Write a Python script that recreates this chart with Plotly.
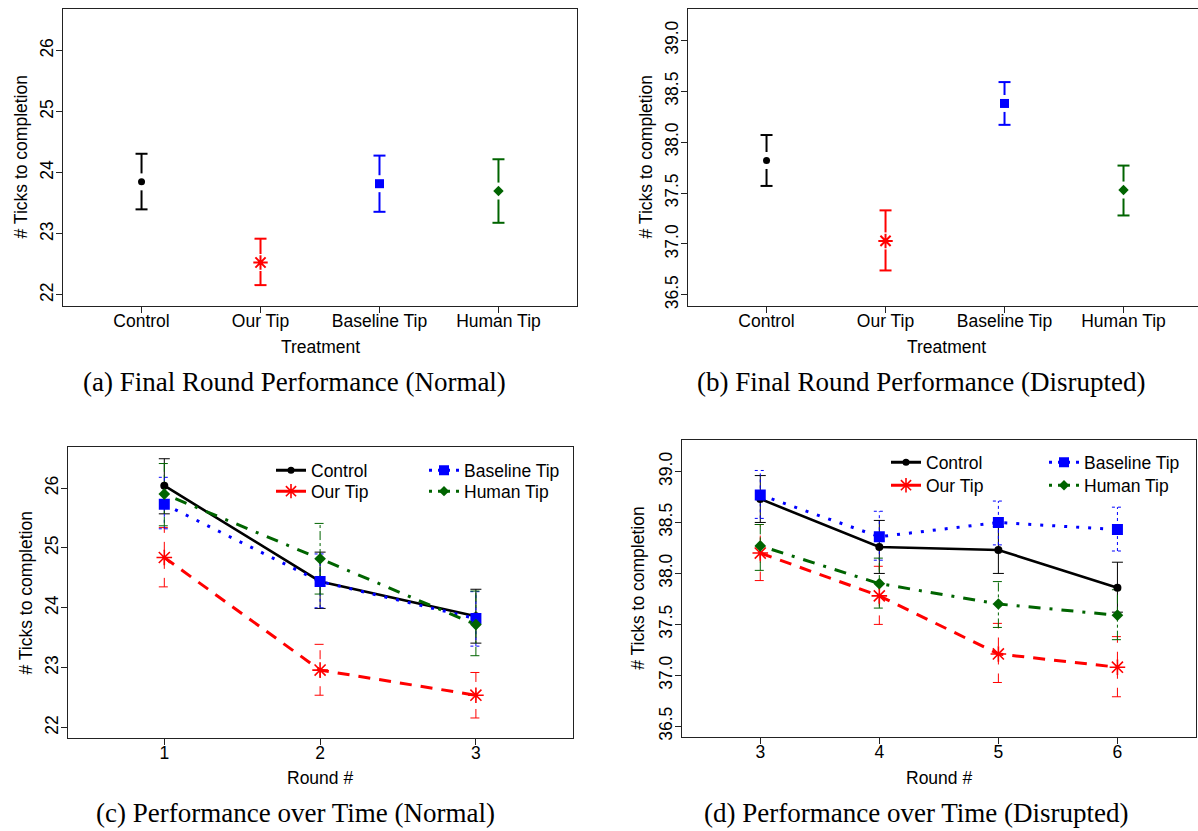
import plotly.graph_objects as go

# ---------------- data ----------------
categories = ["Control", "Our Tip", "Baseline Tip", "Human Tip"]

# (a) Final round performance (normal)
final_normal_mean = [23.85, 22.53, 23.82, 23.70]
final_normal_lo = [23.40, 22.16, 23.36, 23.18]
final_normal_hi = [24.31, 22.92, 24.28, 24.22]

# (b) Final round performance (disrupted)
final_disrupted_mean = [37.82, 37.03, 38.38, 37.53]
final_disrupted_lo = [37.57, 36.74, 38.17, 37.28]
final_disrupted_hi = [38.07, 37.33, 38.59, 37.77]

# (c) Performance over time (normal)
rounds_normal = [1, 2, 3]
normal_control_mean = [26.04, 24.44, 23.86]
normal_control_lo = [25.57, 23.99, 23.41]
normal_control_hi = [26.49, 24.93, 24.31]
normal_ourtip_mean = [24.84, 22.96, 22.54]
normal_ourtip_lo = [24.35, 22.54, 22.16]
normal_ourtip_hi = [25.34, 23.39, 22.92]
normal_baseline_mean = [25.73, 24.44, 23.82]
normal_baseline_lo = [25.32, 24.00, 23.36]
normal_baseline_hi = [26.18, 24.90, 24.27]
normal_human_mean = [25.90, 24.82, 23.72]
normal_human_lo = [25.37, 24.23, 23.20]
normal_human_hi = [26.41, 25.41, 24.28]

# (d) Performance over time (disrupted)
rounds_disrupted = [3, 4, 5, 6]
disr_control_mean = [38.73, 38.26, 38.23, 37.86]
disr_control_lo = [38.50, 38.00, 38.00, 37.62]
disr_control_hi = [38.96, 38.52, 38.46, 38.11]
disr_ourtip_mean = [38.20, 37.78, 37.21, 37.08]
disr_ourtip_lo = [37.93, 37.50, 36.93, 36.79]
disr_ourtip_hi = [38.48, 38.07, 37.51, 37.38]
disr_baseline_mean = [38.77, 38.36, 38.50, 38.43]
disr_baseline_lo = [38.54, 38.13, 38.28, 38.22]
disr_baseline_hi = [39.01, 38.61, 38.71, 38.65]
disr_human_mean = [38.27, 37.90, 37.70, 37.59]
disr_human_lo = [38.03, 37.66, 37.47, 37.35]
disr_human_hi = [38.48, 38.15, 37.92, 37.84]

ticks_normal_y = [22, 23, 24, 25, 26]
ticks_disrupted_y = [36.5, 37.0, 37.5, 38.0, 38.5, 39.0]

captions = [
    "(a) Final Round Performance (Normal)",
    "(b) Final Round Performance (Disrupted)",
    "(c) Performance over Time (Normal)",
    "(d) Performance over Time (Disrupted)",
]

# ---------------- style ----------------
W, H = 1198, 831
SANS = "Liberation Sans, Arial, Helvetica, sans-serif"
SERIF = "Liberation Serif, Times New Roman, serif"
FS = 17.5
CAP_FS = 27

COLORS = ["black", "red", "blue", "#006400"]
SYMBOLS = ["circle", "asterisk-open", "square", "diamond"]
SIZES_A = [7, 12, 9, 8]
SIZES_C = [8, 13, 11, 9]
LINE_DASH = ["solid", "12px,9px", "3px,9px", "3px,9px,12px,9px"]
LINE_W = [2.6, 3, 3, 3]
ERR_DASH = ["solid", "dash", "dot", "dashdot"]

# panel geometry in pixels: (x0, x1), (y0 top, y1 bottom), ranges
PANELS = [
    dict(x=(63, 577), y=(9, 307), xr=(0.34, 4.66), yr=(21.82, 26.68)),
    dict(x=(688, 1198), y=(9, 307), xr=(0.34, 4.626), yr=(36.392, 39.308)),
    dict(x=(67.7, 572.5), y=(449, 741), xr=(0.38, 3.62), yr=(21.82, 26.68)),
    dict(x=(681.7, 1196), y=(441.7, 740), xr=(2.34, 6.66), yr=(36.392, 39.308)),
]


def xdom(p):
    return [p["x"][0] / W, min(p["x"][1] / W, 1.0)]


def ydom(p):
    return [1 - p["y"][1] / H, 1 - p["y"][0] / H]


def dx_per_px(p):
    return (p["xr"][1] - p["xr"][0]) / (p["x"][1] - p["x"][0])


def dy_per_px(p):
    return (p["yr"][1] - p["yr"][0]) / (p["y"][1] - p["y"][0])


fig = go.Figure()

# ---------- (a) and (b): point + gapped CI ----------
final_sets = [
    (final_normal_mean, final_normal_lo, final_normal_hi),
    (final_disrupted_mean, final_disrupted_lo, final_disrupted_hi),
]
for pi, (means, los, his) in enumerate(final_sets):
    p = PANELS[pi]
    xa = "x" if pi == 0 else "x2"
    ya = "y" if pi == 0 else "y2"
    cap = 6 * dx_per_px(p)
    gap = 8.5 * dy_per_px(p)
    for i, cat in enumerate(categories):
        xv = i + 1
        m, lo, hi = means[i], los[i], his[i]
        ex = [xv, xv, None, xv, xv, None, xv - cap, xv + cap, None, xv - cap, xv + cap]
        ey = [lo, m - gap, None, m + gap, hi, None, hi, hi, None, lo, lo]
        fig.add_trace(go.Scatter(x=ex, y=ey, mode="lines", xaxis=xa, yaxis=ya,
                                 line=dict(color=COLORS[i], width=2),
                                 showlegend=False, hoverinfo="skip"))
        fig.add_trace(go.Scatter(x=[xv], y=[m], mode="markers", xaxis=xa, yaxis=ya,
                                 marker=dict(symbol=SYMBOLS[i], size=SIZES_A[i],
                                             color=COLORS[i],
                                             line=dict(color=COLORS[i],
                                                       width=2 if i == 1 else 0)),
                                 showlegend=False))

# ---------- (c) and (d): lines over time ----------
time_sets = [
    (rounds_normal, [
        (normal_control_mean, normal_control_lo, normal_control_hi),
        (normal_ourtip_mean, normal_ourtip_lo, normal_ourtip_hi),
        (normal_baseline_mean, normal_baseline_lo, normal_baseline_hi),
        (normal_human_mean, normal_human_lo, normal_human_hi),
    ]),
    (rounds_disrupted, [
        (disr_control_mean, disr_control_lo, disr_control_hi),
        (disr_ourtip_mean, disr_ourtip_lo, disr_ourtip_hi),
        (disr_baseline_mean, disr_baseline_lo, disr_baseline_hi),
        (disr_human_mean, disr_human_lo, disr_human_hi),
    ]),
]
# legend placement (pixels): left edge x, top y  -- one legend per entry
LEG_X = [[271, 271, 424, 424], [886, 886, 1044, 1044]]
LEG_Y = [[454, 475, 454, 475], [446, 469, 446, 469]]
leg_dash = ["solid", "solid", "3px,6px", "3px,6px"]
legend_layouts = {}
leg_counter = 0

for ti, (rounds, series) in enumerate(time_sets):
    pi = ti + 2
    p = PANELS[pi]
    xa, ya = f"x{pi + 1}", f"y{pi + 1}"
    cap = 5.5 * dx_per_px(p)
    # error bars first
    for si, (means, los, his) in enumerate(series):
        ex, ey = [], []
        for r, lo, hi in zip(rounds, los, his):
            ex += [r, r, None, r - cap, r + cap, None, r - cap, r + cap, None]
            ey += [lo, hi, None, hi, hi, None, lo, lo, None]
        fig.add_trace(go.Scatter(x=ex, y=ey, mode="lines", xaxis=xa, yaxis=ya,
                                 line=dict(color=COLORS[si], width=1, dash=ERR_DASH[si]),
                                 showlegend=False, hoverinfo="skip"))
    for si, (means, los, his) in enumerate(series):
        fig.add_trace(go.Scatter(x=rounds, y=means, mode="lines+markers",
                                 xaxis=xa, yaxis=ya,
                                 line=dict(color=COLORS[si], width=LINE_W[si],
                                           dash=LINE_DASH[si]),
                                 marker=dict(symbol=SYMBOLS[si], size=SIZES_C[si],
                                             color=COLORS[si],
                                             line=dict(color=COLORS[si],
                                                       width=1.6 if si == 1 else 0)),
                                 showlegend=False))
    # legend entries (two columns, each its own legend for exact placement)
    for si, name in enumerate(categories):
        leg_counter += 1
        legname = "legend" if leg_counter == 1 else f"legend{leg_counter}"
        fig.add_trace(go.Scatter(x=[None], y=[None], mode="lines+markers",
                                 xaxis=xa, yaxis=ya, name=name,
                                 line=dict(color=COLORS[si], width=3, dash=leg_dash[si]),
                                 marker=dict(symbol=SYMBOLS[si],
                                             size=SIZES_C[si] - 1,
                                             color=COLORS[si],
                                             line=dict(color=COLORS[si],
                                                       width=1.6 if si == 1 else 0)),
                                 showlegend=True, legend=legname))
        legend_layouts[legname] = dict(
            orientation="v", xanchor="left", yanchor="top",
            x=LEG_X[ti][si] / W, y=1 - LEG_Y[ti][si] / H,
            bgcolor="rgba(0,0,0,0)", borderwidth=0,
            font=dict(family=SANS, size=FS, color="black"),
            itemclick=False, itemdoubleclick=False)

# ---------- axes ----------
axis_common = dict(showline=True, linecolor="#222", linewidth=1.3, ticks="outside",
                   ticklen=6, tickwidth=1, tickcolor="#222", showgrid=False,
                   zeroline=False, tickfont=dict(family=SANS, size=FS, color="black"),
                   fixedrange=True)

xticks = [
    (list(range(1, 5)), categories),
    (list(range(1, 5)), categories),
    (rounds_normal, [str(v) for v in rounds_normal]),
    (rounds_disrupted, [str(v) for v in rounds_disrupted]),
]
yticks = [
    (ticks_normal_y, [str(v) for v in ticks_normal_y]),
    (ticks_disrupted_y, [f"{v:.1f}" for v in ticks_disrupted_y]),
    (ticks_normal_y, [str(v) for v in ticks_normal_y]),
    (ticks_disrupted_y, [f"{v:.1f}" for v in ticks_disrupted_y]),
]

layout_axes = {}
for pi, p in enumerate(PANELS):
    sfx = "" if pi == 0 else str(pi + 1)
    layout_axes[f"xaxis{sfx}"] = dict(
        axis_common, domain=xdom(p), range=list(p["xr"]),
        tickvals=xticks[pi][0], ticktext=xticks[pi][1],
        ticklabelstandoff=-7,
        anchor=f"y{sfx}", mirror=True)
    layout_axes[f"yaxis{sfx}"] = dict(
        axis_common, domain=ydom(p), range=list(p["yr"]),
        tickvals=yticks[pi][0], ticktext=yticks[pi][1], tickangle=-90,
        ticklabelstandoff=-4,
        anchor=f"x{sfx}", mirror=(pi != 1))

# ---------- text annotations ----------
annotations = []
ytitle_x = [21, 646, 25.6, 638]
xtitle_x = [320, 946, 320, 939]
xtitle_y = [348, 348, 781, 781]
xtitles = ["Treatment", "Treatment", "Round #", "Round #"]
caption_x = [294, 921, 295, 916]
caption_y = [383, 383, 816, 816]
for pi, p in enumerate(PANELS):
    cy = (p["y"][0] + p["y"][1]) / 2
    annotations.append(dict(text="# Ticks to completion", x=ytitle_x[pi] / W, y=1 - cy / H,
                            xref="paper", yref="paper", showarrow=False, textangle=-90,
                            xanchor="center", yanchor="middle",
                            font=dict(family=SANS, size=FS, color="black")))
    annotations.append(dict(text=xtitles[pi], x=xtitle_x[pi] / W, y=1 - xtitle_y[pi] / H,
                            xref="paper", yref="paper", showarrow=False,
                            xanchor="center", yanchor="middle",
                            font=dict(family=SANS, size=FS, color="black")))
    annotations.append(dict(text=captions[pi], x=caption_x[pi] / W, y=1 - caption_y[pi] / H,
                            xref="paper", yref="paper", showarrow=False,
                            xanchor="center", yanchor="middle",
                            font=dict(family=SERIF, size=CAP_FS, color="black")))

fig.update_layout(
    width=W, height=H, autosize=False,
    margin=dict(l=0, r=0, t=0, b=0, pad=0),
    paper_bgcolor="white", plot_bgcolor="white",
    annotations=annotations,
    **legend_layouts,
    **layout_axes,
)

fig.write_html("out.html", config={"displayModeBar": False},
               post_script="document.body.style.margin='0';")
